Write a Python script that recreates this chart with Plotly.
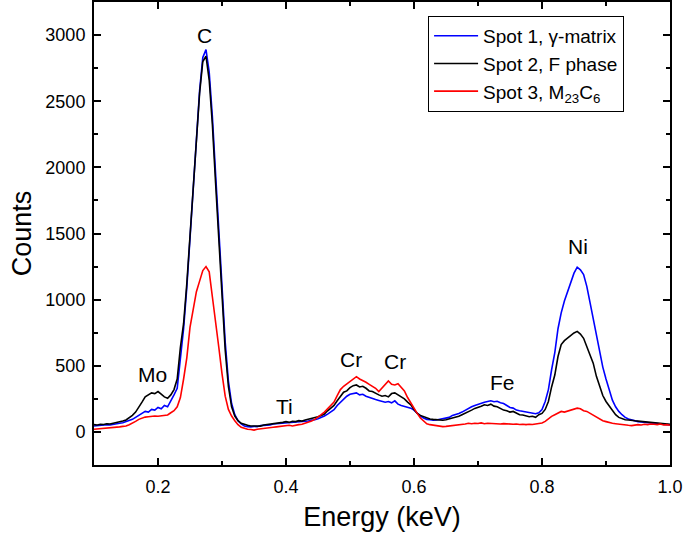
import numpy as np
import plotly.graph_objects as go

# Energy grid (keV), 0.005 keV steps from 0.100 to 1.000
energy = np.round(np.linspace(0.1, 1.0, 181), 3)

spot1_gamma = [
    45, 48, 50, 52, 55, 52, 58, 60, 65, 70,
    78, 85, 95, 110, 125, 140, 155, 150, 170, 165,
    185, 175, 200, 190, 230, 280, 330, 560, 780, 1090,
    1460, 1870, 2270, 2580, 2830, 2890, 2720, 2380, 1950, 1540,
    1060, 680, 385, 215, 130, 85, 60, 45, 40, 38,
    42, 40, 48, 50, 55, 52, 60, 62, 66, 70,
    68, 75, 72, 78, 76, 80, 85, 82, 90, 92,
    100, 108, 120, 135, 150, 168, 200, 225, 250, 270,
    285, 290, 295, 280, 285, 270, 260, 255, 245, 238,
    232, 225, 230, 220, 235, 210, 200, 195, 185, 180,
    165, 140, 120, 105, 95, 92, 88, 90, 95, 100,
    105, 110, 125, 130, 140, 150, 165, 175, 190, 200,
    210, 215, 225, 230, 235, 228, 232, 220, 215, 200,
    185, 180, 165, 160, 155, 150, 145, 140, 138, 145,
    170, 230, 320, 470, 600, 780, 900, 990, 1060, 1140,
    1200, 1245, 1225, 1190, 1100, 980, 850, 720, 600, 490,
    400, 310, 240, 190, 155, 130, 110, 98, 90, 84,
    78, 75, 72, 70, 68, 66, 64, 60, 58, 55,
    53,
]

spot2_f = [
    55, 52, 58, 56, 62, 60, 66, 70, 75, 82,
    90, 105, 125, 150, 185, 225, 265, 280, 295, 290,
    305, 285, 265, 255, 280, 320, 400, 640, 820, 1120,
    1480, 1880, 2280, 2560, 2800, 2840, 2660, 2320, 1880, 1480,
    1000, 620, 345, 190, 120, 85, 65, 55, 50, 45,
    45, 48, 44, 52, 55, 58, 62, 66, 65, 72,
    78, 72, 80, 78, 85, 82, 90, 95, 100, 105,
    115, 125, 135, 160, 180, 200, 235, 270, 300, 310,
    335, 350, 355, 340, 345, 330, 310, 305, 290, 280,
    270, 275, 265, 290, 295, 280, 265, 250, 225, 205,
    170, 140, 125, 115, 105, 98, 95, 92, 90, 88,
    92, 98, 102, 110, 118, 130, 140, 150, 165, 178,
    185, 195, 205, 200, 210, 195, 190, 175, 165, 160,
    150, 155, 140, 130, 128, 122, 115, 118, 110, 130,
    140, 170, 230, 340, 430, 570, 660, 690, 710, 730,
    748, 760, 740, 708, 650, 590, 520, 420, 340, 275,
    230, 195, 160, 130, 110, 100, 92, 90, 85, 84,
    82, 80, 78, 76, 72, 70, 68, 65, 62, 60,
    58,
]

spot3_m23c6 = [
    20, 22, 25, 24, 28, 30, 32, 35, 38, 42,
    45, 55, 65, 80, 95, 105, 112, 115, 118, 120,
    118, 122, 125, 128, 145, 160, 190, 260, 400, 560,
    790, 930, 1060, 1140, 1220, 1250, 1210, 1020, 850, 640,
    440, 270, 170, 120, 85, 55, 35, 25, 20, 18,
    14, 20, 22, 25, 28, 30, 35, 38, 40, 45,
    48, 50, 45, 52, 55, 58, 65, 72, 82, 95,
    110, 130, 150, 175, 195, 225, 275, 320, 345, 365,
    380, 400, 418, 400, 390, 375, 360, 345, 330, 305,
    330, 360, 385, 360, 355, 365, 340, 310, 260, 220,
    170, 140, 105, 80, 62, 55, 50, 45, 42, 40,
    42, 45, 48, 52, 50, 55, 60, 65, 62, 66,
    64, 68, 62, 66, 64, 62, 65, 60, 63, 60,
    62, 58, 60, 56, 58, 55, 58, 56, 60, 62,
    68, 80, 100, 118, 130, 145, 155, 150, 158, 165,
    172, 180, 175, 160, 155, 140, 125, 110, 95, 85,
    78, 70, 65, 62, 58, 55, 52, 50, 48, 52,
    55, 52, 58, 55, 60, 58, 55, 60, 52, 55,
    50,
]

series_names = ["Spot 1, γ-matrix", "Spot 2, F phase", "Spot 3, M<sub>23</sub>C<sub>6</sub>"]
series_colors = ["#0000ff", "#000000", "#ff0000"]

peak_labels = ["C", "Mo", "Ti", "Cr", "Cr", "Fe", "Ni"]
peak_x = [0.273, 0.192, 0.397, 0.502, 0.571, 0.7375, 0.856]
peak_y = [3000, 431, 191, 545, 530, 370, 1400]

FONT = "Liberation Sans, Arial, sans-serif"

fig = go.Figure()
for name, col, vals in zip(series_names, series_colors, [spot1_gamma, spot2_f, spot3_m23c6]):
    fig.add_trace(go.Scatter(x=energy, y=vals, mode="lines", name=name,
                             line=dict(color=col, width=1.6)))

for t, xx, yy in zip(peak_labels, peak_x, peak_y):
    fig.add_annotation(x=xx, y=yy, text=t, showarrow=False,
                       font=dict(family=FONT, size=21, color="black"))

axis_common = dict(
    showline=True, linecolor="black", linewidth=2, mirror="allticks",
    ticks="inside", ticklen=7, tickwidth=2, tickcolor="black",
    showgrid=False, zeroline=False,
    tickfont=dict(family=FONT, size=18, color="black"),
)

fig.update_xaxes(
    range=[0.1, 1.0], tickvals=[0.2, 0.4, 0.6, 0.8, 1.0],
    ticktext=["0.2", "0.4", "0.6", "0.8", "1.0"],
    minor=dict(ticks="inside", ticklen=4, tickwidth=2, tickcolor="black", dtick=0.1, tick0=0.1),
    title=dict(text="Energy (keV)", font=dict(family=FONT, size=27, color="black"), standoff=12),
    ticklabelstandoff=4,
    **axis_common,
)
fig.update_yaxes(
    range=[-250, 3250], tickvals=[0, 500, 1000, 1500, 2000, 2500, 3000],
    minor=dict(ticks="inside", ticklen=4, tickwidth=2, tickcolor="black", dtick=250, tick0=0),
    title=dict(text="Counts", font=dict(family=FONT, size=27, color="black"), standoff=6),
    ticklabelstandoff=3,
    **axis_common,
)

fig.update_layout(
    width=685, height=535,
    margin=dict(l=94, r=15, t=2, b=70, autoexpand=False),
    paper_bgcolor="white", plot_bgcolor="white",
    showlegend=True,
    legend=dict(x=0.58, y=0.97, xanchor="left", yanchor="top",
                bgcolor="white", bordercolor="black", borderwidth=1,
                font=dict(family=FONT, size=19, color="black"),
                itemwidth=44, tracegroupgap=0),
)

fig.write_html("out.html", config={"displayModeBar": False},
               post_script="document.body.style.margin='0';document.body.style.overflow='hidden';")
